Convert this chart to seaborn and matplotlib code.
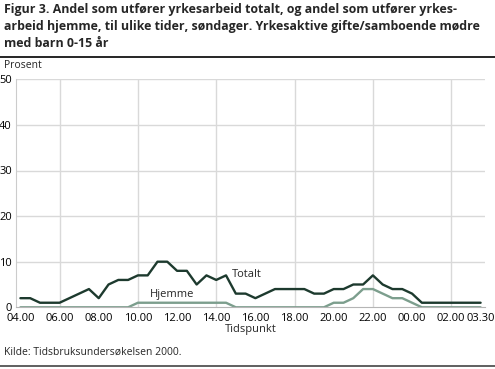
import numpy as np
import pandas as pd
import seaborn as sns
import matplotlib.pyplot as plt
from matplotlib.lines import Line2D

# --- data: half-hour steps from 04.00 to 03.30 ---
times = ["04.00", "04.30", "05.00", "05.30", "06.00", "06.30", "07.00", "07.30",
         "08.00", "08.30", "09.00", "09.30", "10.00", "10.30", "11.00", "11.30",
         "12.00", "12.30", "13.00", "13.30", "14.00", "14.30", "15.00", "15.30",
         "16.00", "16.30", "17.00", "17.30", "18.00", "18.30", "19.00", "19.30",
         "20.00", "20.30", "21.00", "21.30", "22.00", "22.30", "23.00", "23.30",
         "00.00", "00.30", "01.00", "01.30", "02.00", "02.30", "03.00", "03.30"]
totalt = [2, 2, 1, 1, 1, 2, 3, 4, 2, 5, 6, 6, 7, 7, 10, 10,
          8, 8, 5, 7, 6, 7, 3, 3, 2, 3, 4, 4, 4, 4, 3, 3,
          4, 4, 5, 5, 7, 5, 4, 4, 3, 1, 1, 1, 1, 1, 1, 1]
hjemme = [0, 0, 0, 0, 0, 0, 0, 0, 0, 0, 0, 0, 1, 1, 1, 1,
          1, 1, 1, 1, 1, 1, 0, 0, 0, 0, 0, 0, 0, 0, 0, 0,
          1, 1, 2, 4, 4, 3, 2, 2, 1, 0, 0, 0, 0, 0, 0, 0]
tick_labels = ["04.00", "06.00", "08.00", "10.00", "12.00", "14.00", "16.00",
               "18.00", "20.00", "22.00", "00.00", "02.00", "03.30"]

title_lines = ["Figur 3. Andel som utfører yrkesarbeid totalt, og andel som utfører yrkes-",
               "arbeid hjemme, til ulike tider, søndager. Yrkesaktive gifte/samboende mødre",
               "med barn 0-15 år"]

sns.set_style("white")
plt.rcParams['font.family'] = ['Open Sans', 'DejaVu Sans']

df = pd.DataFrame({
    "pos": np.arange(len(times)).tolist() * 2,
    "verdi": totalt + hjemme,
    "serie": ["Totalt"] * len(times) + ["Hjemme"] * len(times),
})

W, H = 495, 369
fig = plt.figure(figsize=(W / 100, H / 100), dpi=100)
ax = fig.add_axes([16 / W, 1 - 307.3 / H, (485 - 16) / W, (307.3 - 79.3) / H])

sns.lineplot(data=df, x="pos", y="verdi", hue="serie",
             palette={"Totalt": "#1d3a2e", "Hjemme": "#7c9e8d"},
             hue_order=["Hjemme", "Totalt"], linewidth=1.7, legend=False, ax=ax)

ax.set_xlim(-0.45, 47.45)
ax.set_ylim(0, 50)
ax.set_yticks([0, 10, 20, 30, 40, 50])
major = [0, 4, 8, 12, 16, 20, 24, 28, 32, 36, 40, 44, 47]
ax.set_xticks(major)
ax.set_xticklabels(tick_labels)
ax.set_xticks(np.arange(len(times)), minor=True)
ax.tick_params(axis="x", which="both", direction="in", length=4, color="#b5b5b5",
               width=0.8, labelsize=8, pad=4, colors="#b5b5b5", labelcolor="black")
ax.tick_params(axis="y", length=0, labelsize=8, pad=3, labelcolor="black")
for lab in ax.get_yticklabels():
    lab.set_verticalalignment("center_baseline")
ax.set_xlabel("Tidspunkt", fontsize=8, labelpad=0)
ax.set_ylabel("")

# gridlines: horizontal every 10, vertical every 4 hours from 06.00
for y in [10, 20, 30, 40, 50]:
    ax.axhline(y, color="#d9d9d9", lw=1, zorder=0)
for x in [4, 12, 20, 28, 36, 44]:
    ax.axvline(x, color="#d9d9d9", lw=1, zorder=0)
for s in ["top", "right"]:
    ax.spines[s].set_visible(False)
ax.spines["left"].set_color("#cccccc")
ax.spines["bottom"].set_color("#b5b5b5")

ax.text(21.6, 7.1, "Totalt", fontsize=8, va="center", ha="left")
ax.text(13.2, 2.7, "Hjemme", fontsize=8, va="center", ha="left")

for i, line in enumerate(title_lines):
    fig.text(4 / W, 1 - (3 + 17 * i) / H, line, fontsize=8.9, fontweight="bold",
             va="top", ha="left")
fig.add_artist(Line2D([0, 1], [1 - 57 / H, 1 - 57 / H], color="black", lw=1.2))
fig.text(4 / W, 1 - 66 / H, "Prosent", fontsize=7.5, va="center", ha="left")
fig.text(4 / W, 1 - 352 / H, "Kilde: Tidsbruksundersøkelsen 2000.", fontsize=7.5,
         va="center", ha="left")
fig.add_artist(Line2D([0, 1], [1 - 366 / H, 1 - 366 / H], color="#444444", lw=1.2))

fig.savefig("out.png", dpi=100)
